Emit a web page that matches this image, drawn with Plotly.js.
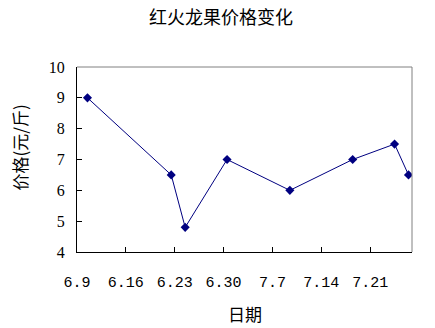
<!DOCTYPE html>
<html><head><meta charset="utf-8">
<script src="https://cdn.plot.ly/plotly-3.0.1.min.js"></script>
<style>html,body{margin:0;padding:0;background:#fff;}</style>
</head><body><div id="chart" style="width:435px;height:328px;"></div>
<script>
// data
var dates = ['2000-06-10','2000-06-22','2000-06-24','2000-06-30','2000-07-09','2000-07-18','2000-07-24','2000-07-26'];
var prices = [9, 6.5, 4.8, 7, 6, 7, 7.5, 6.5];
var tickDates = ['2000-06-09','2000-06-16','2000-06-23','2000-06-30','2000-07-07','2000-07-14','2000-07-21'];
var tickLabels = ['6.9','6.16','6.23','6.30','7.7','7.14','7.21'];
var xRange = ['2000-06-09','2000-07-27'];
var titleText = '红火龙果价格变化';
var xTitle = '日期';
var yTitle = '价格(元/斤)';

// Excel-style "between categories": points sit in the middle of their day
var xs = dates.map(function(d){ return d + ' 12:00'; });

var trace = {
  x: xs, y: prices, type: 'scatter', mode: 'lines+markers',
  line: {color: '#000080', width: 1},
  marker: {symbol: 'diamond', size: 7, color: '#000080'},
  hoverinfo: 'skip'
};
var cjk = '"Noto Sans CJK SC", sans-serif';
var L = 77, R = 23, T = 67, B = 76, W = 435, H = 328;
var pw = W - L - R, ph = H - T - B;
var layout = {
  width: W, height: H,
  margin: {l: L, r: R, t: T, b: B},
  paper_bgcolor: '#fff', plot_bgcolor: '#fff',
  showlegend: false,
  title: {text: titleText, font: {family: cjk, size: 18, color: '#000'}, xref: 'container', x: 221 / W, xanchor: 'center', yref: 'container', y: 1 - 18 / H, yanchor: 'middle'},
  xaxis: {
    type: 'date', range: xRange, tickmode: 'array', tickvals: tickDates, ticktext: tickLabels,
    showgrid: false, zeroline: false, showline: true, linecolor: '#000', linewidth: 1,
    ticks: 'inside', ticklen: 5, tickcolor: '#000', ticklabelstandoff: 16,
    tickfont: {family: '"Liberation Mono", monospace', size: 15, color: '#000'}
  },
  yaxis: {
    range: [4, 10], tickmode: 'array', tickvals: [4,5,6,7,8,9,10],
    showgrid: false, zeroline: false, showline: true, linecolor: '#000', linewidth: 1,
    ticks: 'inside', ticklen: 5, tickcolor: '#000', ticklabelstandoff: 8,
    tickfont: {family: '"Liberation Serif", serif', size: 16, color: '#000'}
  },
  annotations: [
    {text: xTitle, xref: 'paper', yref: 'paper', x: (245 - L) / pw, y: -(313 - T - ph) / ph, xanchor: 'center', yanchor: 'middle', showarrow: false, font: {family: cjk, size: 17, color: '#000'}},
    {text: yTitle, xref: 'paper', yref: 'paper', x: -(L - 18.5) / pw, y: (T + ph - 148) / ph, xanchor: 'center', yanchor: 'middle', textangle: -90, showarrow: false, font: {family: cjk, size: 17, color: '#000'}}
  ],
  shapes: [
    {type: 'line', xref: 'paper', yref: 'paper', x0: 0, x1: 1, y0: 1, y1: 1, line: {color: '#808080', width: 1}},
    {type: 'line', xref: 'paper', yref: 'paper', x0: 1, x1: 1, y0: 0, y1: 1, line: {color: '#808080', width: 1}}
  ]
};
Plotly.newPlot('chart', [trace], layout, {displayModeBar: false, staticPlot: true});
</script></body></html>
